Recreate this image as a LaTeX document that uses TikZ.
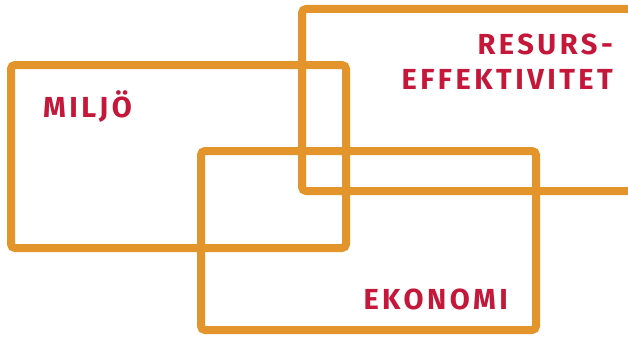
\documentclass[tikz,border=0pt]{standalone}
\usepackage{fontspec}
\setmainfont{Fira Sans}
\newfontfamily\labelfont[LetterSpace=12]{Fira Sans Bold}
\definecolor{frameorange}{HTML}{E3952B}
\definecolor{labelred}{HTML}{C4173A}
\tikzset{
  frame/.style={draw=frameorange, line width=8pt, rounded corners=4pt},
  lbl/.style={text=labelred, font=\labelfont\fontsize{29}{34}\selectfont, inner sep=0pt}
}
\begin{document}
\begin{tikzpicture}[x=1pt,y=-1pt]
\useasboundingbox (0,0) rectangle (628,337);
\clip (0,0) rectangle (628,337);
\fill[white] (0,0) rectangle (628,337);
\draw[frame] (11,65) rectangle (346,248);
\draw[frame] (660,9) -- (302,9) -- (302,191) -- (660,191);
\draw[frame] (201,151) rectangle (536,330);
\node[lbl, anchor=base west] (miljo) at (43,117) {MILJÖ};
\node[lbl, anchor=base east] (resurs) at (613,55) {RESURS-};
\node[lbl, anchor=base east] (effekt) at (613,89) {EFFEKTIVITET};
\node[lbl, anchor=base east] (ekonomi) at (508,309) {EKONOMI};
\end{tikzpicture}
\end{document}
